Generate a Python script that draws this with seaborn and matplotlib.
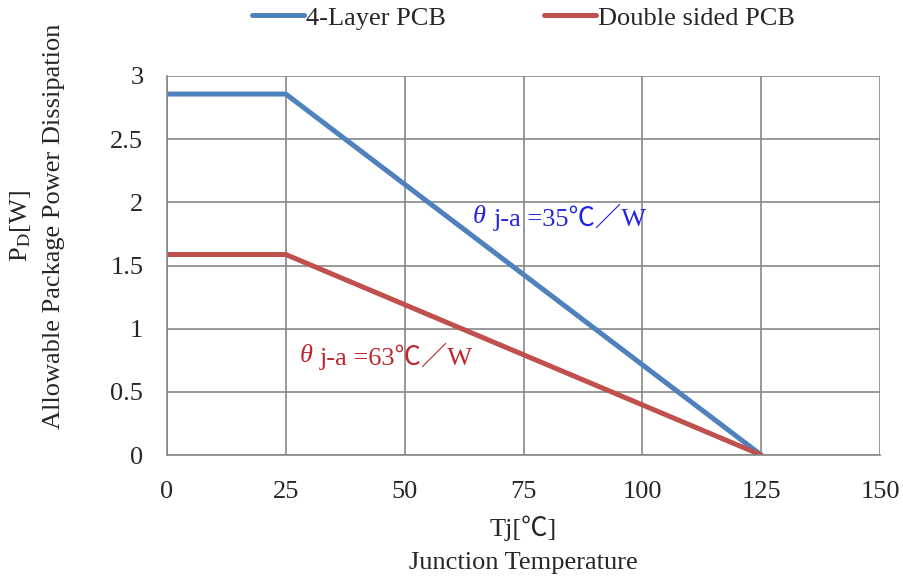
import pandas as pd
import matplotlib
matplotlib.use("Agg")
import matplotlib.pyplot as plt
import seaborn as sns

# data
tj = [0, 25, 125]
pd_4layer = [2.857, 2.857, 0.0]
pd_double = [1.587, 1.587, 0.0]
series_names = ["4-Layer PCB", "Double sided PCB"]
x_ticks = [0, 25, 50, 75, 100, 125, 150]
y_ticks = [0, 0.5, 1, 1.5, 2, 2.5, 3]
y_tick_labels = ["0", "0.5", "1", "1.5", "2", "2.5", "3"]

df = pd.DataFrame({
    "Tj": tj + tj,
    "PD": pd_4layer + pd_double,
    "Board": [series_names[0]] * len(tj) + [series_names[1]] * len(tj),
})

sns.set_style("white")
plt.rcParams["font.family"] = ["Liberation Serif", "Noto Sans CJK JP", "DejaVu Serif"]
plt.rcParams["mathtext.fontset"] = "stix"

fs = 19
fig = plt.figure(figsize=(9.04, 5.77), dpi=100)
ax = fig.add_axes([0.1847, 0.2114, 0.7888, 0.6569])

sns.lineplot(data=df, x="Tj", y="PD", hue="Board",
             palette=["#4F81BD", "#C0504D"], linewidth=3.6, ax=ax)

ax.set_xlim(0, 150)
ax.set_ylim(0, 3)
ax.set_xticks(x_ticks)
ax.set_yticks(y_ticks)
ax.set_yticklabels(y_tick_labels)
ax.tick_params(axis="both", labelsize=fs, length=5, width=1.2, color="#878787",
               direction="out")
ax.tick_params(axis="x", pad=14)
ax.tick_params(axis="y", pad=12)
ax.grid(True, color="#878787", linewidth=1.2)
ax.set_axisbelow(True)
for side in ["top", "right"]:
    ax.spines[side].set_visible(False)
for side in ["left", "bottom"]:
    ax.spines[side].set_color("#878787")
    ax.spines[side].set_linewidth(1.2)

ax.set_xlabel("Tj[℃]\nJunction Temperature", fontsize=fs, linespacing=1.65)
ax.xaxis.set_label_coords(0.5, -0.16)
ax.set_ylabel("P$_{\\mathrm{D}}$[W]\nAllowable Package Power Dissipation",
              fontsize=fs, linespacing=1.6)
ax.yaxis.set_label_coords(-0.143, 0.604)

# theta-ja annotations (theta drawn in italic, rest as plain text)
for x, y, label, col in [(64.4, 1.88, "j-a =35℃／W", "#2323E6"),
                         (28.0, 0.78, "j-a =63℃／W", "#C0282D")]:
    ax.text(x, y, "θ", color=col, fontsize=fs, style="italic", va="center", ha="left")
    ax.annotate(label, xy=(x, y), xytext=(14.5, 0), textcoords="offset points",
                color=col, fontsize=fs, va="center", ha="left")

ax.legend(loc="center", bbox_to_anchor=(0.5, 1.153), ncol=2, frameon=False,
          fontsize=fs, handlelength=1.97, handletextpad=0.1, columnspacing=3.7,
          borderaxespad=0)

fig.savefig("out.png", dpi=100)
